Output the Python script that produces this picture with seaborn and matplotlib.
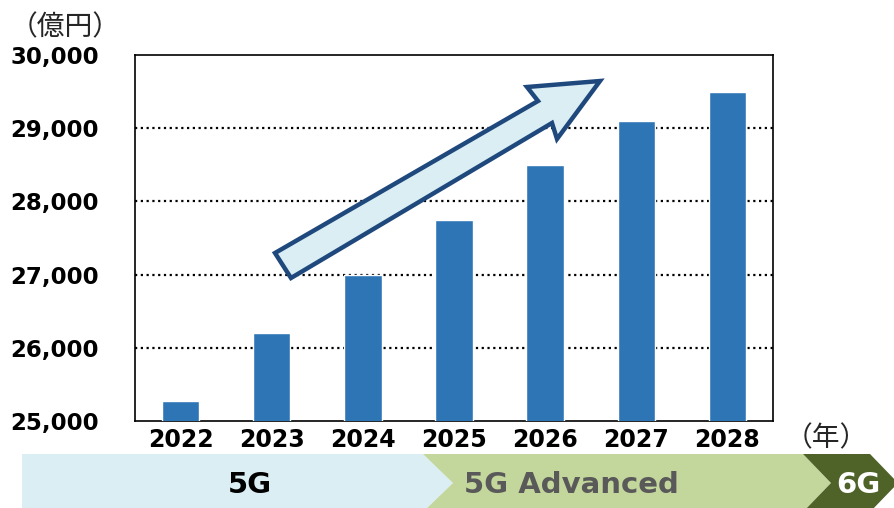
import matplotlib
matplotlib.use('Agg')
import matplotlib.pyplot as plt
import seaborn as sns
import pandas as pd
from matplotlib.patches import Polygon

# Market size (億円) by year
years = ['2022', '2023', '2024', '2025', '2026', '2027', '2028']
values = [25280, 26200, 27000, 27750, 28500, 29100, 29500]
y_ticks = [25000, 26000, 27000, 28000, 29000, 30000]
y_tick_labels = ['25,000', '26,000', '27,000', '28,000', '29,000', '30,000']

df = pd.DataFrame({'year': years, 'value': values})

sns.set_theme(style='white')
plt.rcParams['font.family'] = ['DejaVu Sans', 'Noto Sans CJK JP']

W, H = 895, 508
fig = plt.figure(figsize=(W / 100, H / 100), dpi=100)


def px(x, y):
    # pixel coords (y from top) -> figure fraction
    return (x / W, 1 - y / H)


ax = fig.add_axes([135 / W, 1 - 421 / H, (773 - 135) / W, (421 - 55) / H])
sns.barplot(data=df, x='year', y='value', color='#2E75B6', saturation=1,
            width=0.41, ax=ax, zorder=3)

ax.set_ylim(25000, 30000)
ax.set_yticks(y_ticks)
ax.set_yticklabels(y_tick_labels)
ax.set_xlabel('')
ax.set_ylabel('')
ax.tick_params(axis='y', length=0, labelsize=16.5, pad=26)
ax.tick_params(axis='x', length=0, labelsize=17, pad=5)
for lab in ax.get_xticklabels() + ax.get_yticklabels():
    lab.set_fontweight('bold')
    lab.set_color('black')

for y in y_ticks[1:-1]:
    ax.axhline(y, color='black', linestyle=(0, (1, 1.6)), linewidth=1.6, zorder=1)

for s in ax.spines.values():
    s.set_color('black')
    s.set_linewidth(1.2)

# unit labels
fig.text(*px(10, 27), '（億円）', fontsize=20, family=['Noto Sans CJK JP'],
         ha='left', va='center')
fig.text(*px(785, 438), '（年）', fontsize=20, family=['Noto Sans CJK JP'],
         ha='left', va='center')

# growth arrow
arrow_pts = [(275, 253), (538, 101), (527, 87), (600, 81), (557, 139),
             (552, 123), (291, 278)]
fig.add_artist(Polygon([px(*p) for p in arrow_pts], closed=True,
                       transform=fig.transFigure, facecolor='#DAEEF3',
                       edgecolor='#1F497D', linewidth=3.2, joinstyle='miter',
                       zorder=5))

# generation band at the bottom
bands = [
    ([(22, 454), (423, 454), (453, 483), (423, 512), (22, 512)], '#DAEEF3'),
    ([(423, 454), (803, 454), (831, 483), (803, 512), (423, 512), (453, 483)], '#C3D69B'),
    ([(803, 454), (870, 454), (898, 483), (870, 512), (803, 512), (831, 483)], '#4F6228'),
]
for pts, col in bands:
    fig.add_artist(Polygon([px(*p) for p in pts], closed=True,
                           transform=fig.transFigure, facecolor=col,
                           edgecolor='none'))

fig.text(*px(250, 485), '5G', fontsize=21, fontweight='bold', color='black',
         ha='center', va='center')
fig.text(*px(571, 485), '5G Advanced', fontsize=21, fontweight='bold',
         color='#595959', ha='center', va='center')
fig.text(*px(858, 485), '6G', fontsize=21, fontweight='bold', color='white',
         ha='center', va='center')

fig.savefig('out.png', dpi=100)
